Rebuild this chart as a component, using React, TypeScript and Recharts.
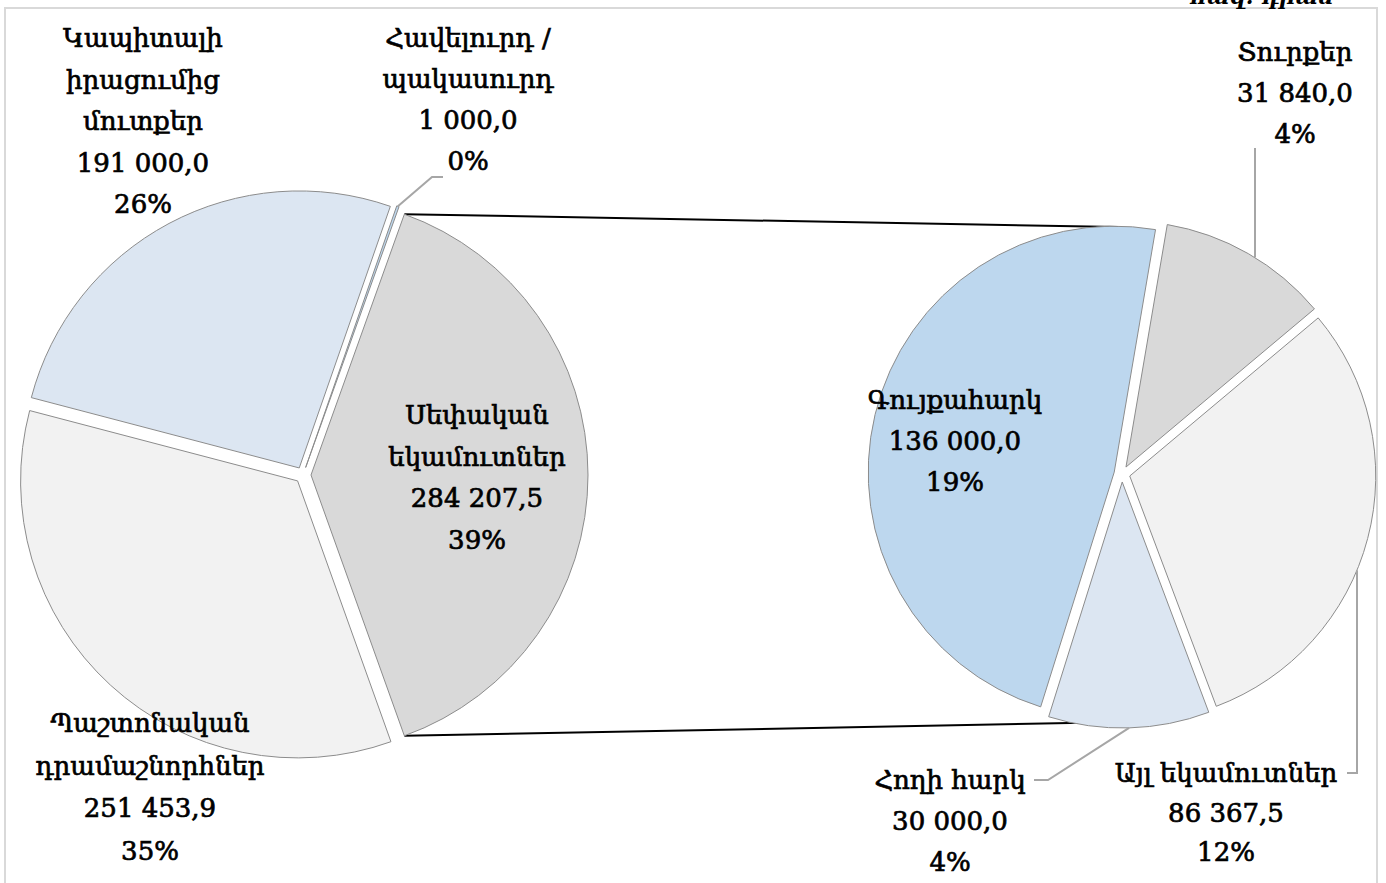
import { PieChart, Pie, Cell } from 'recharts'

// values in thousand AMD
const leftCategories = ['Սեփական\nեկամուտներ', 'Պաշտոնական\nդրամաշնորհներ', 'Կապիտալի\nիրացումից\nմուտքեր', 'Հավելուրդ /\nպակասուրդ']
const leftValues = [284207.5, 251453.9, 191000, 1000]
const leftColors = ['#d9d9d9', '#f2f2f2', '#dce6f2', '#bdd7ee']

const rightCategories = ['Գույքահարկ', 'Տուրքեր', 'Այլ եկամուտներ', 'Հողի հարկ']
const rightValues = [136000, 31840, 86367.5, 30000]
const rightColors = ['#bdd7ee', '#d9d9d9', '#f2f2f2', '#dce6f2']

const unitLabel = 'հազ. դրամ'

const WIDTH = 1386
const HEIGHT = 883
const EXPLODE = 8
const STROKE = '#8c8c8c'
const FONT = "'DejaVu Serif', serif"
const FONT_SIZE = 26
const RAD = Math.PI / 180

const grandTotal = leftValues.reduce((a, b) => a + b, 0)

const leftData = leftCategories.map((name, i) => ({ name, value: leftValues[i] }))
const rightData = rightCategories.map((name, i) => ({ name, value: rightValues[i] }))

// first slice of left pie is centered on the right side, like Excel's pie-of-pie
const leftGeo = { cx: 303, cy: 475, r: 277, start: (180 * leftValues[0]) / grandTotal }
const rightGeo = { cx: 1122, cy: 474, r: 246, start: 252.6 }

interface LabelLayout {
  x: number
  y: number
  lh: number
  leader?: { pts: number[][]; anchorX?: number }
}

const leftLabels: LabelLayout[] = [
  { x: 477, y: 415, lh: 41.5 },
  { x: 150, y: 723, lh: 42.5 },
  { x: 143, y: 38, lh: 41.5 },
  { x: 468, y: 38, lh: 41, leader: { pts: [[443, 177], [432, 177]] } },
]
const rightLabels: LabelLayout[] = [
  { x: 955, y: 400, lh: 41 },
  { x: 1295, y: 52, lh: 41, leader: { pts: [[1255, 148]], anchorX: 1255 } },
  { x: 1226, y: 773, lh: 39.5, leader: { pts: [[1347, 773], [1357, 773]], anchorX: 1357 } },
  { x: 950, y: 780, lh: 41, leader: { pts: [[1034, 780], [1048, 780]] } },
]

function polar(cx: number, cy: number, r: number, a: number) {
  return [cx + r * Math.cos(a * RAD), cy - r * Math.sin(a * RAD)]
}

function fmtValue(v: number) {
  const [int, dec] = v.toFixed(1).split('.')
  return int.replace(/\B(?=(\d{3})+(?!\d))/g, ' ') + ',' + dec
}

function midAngles(values: number[], start: number) {
  const sum = values.reduce((a, b) => a + b, 0)
  let acc = 0
  return values.map((v) => {
    const mid = start - (360 * (acc + v / 2)) / sum
    acc += v
    return mid
  })
}

function renderLabel(p: any, layout: LabelLayout, name: string, value: number) {
  const lines = [...name.split('\n'), fmtValue(value), Math.round((value / grandTotal) * 100) + '%']
  let leader = null
  if (layout.leader) {
    const pts = layout.leader.pts
    let end: number[]
    if (layout.leader.anchorX != null) {
      const x = layout.leader.anchorX
      const dy = Math.sqrt(Math.max(0, p.outerRadius ** 2 - (x - p.cx) ** 2))
      const last = pts[pts.length - 1]
      end = [x, last[1] < p.cy ? p.cy - dy : p.cy + dy]
    } else {
      end = polar(p.cx, p.cy, p.outerRadius, p.midAngle)
    }
    const all = [...pts, end]
    leader = (
      <polyline
        points={all.map((q) => q.join(',')).join(' ')}
        fill="none"
        stroke="#a6a6a6"
        strokeWidth={2}
      />
    )
  }
  return (
    <g>
      {leader}
      {lines.map((t, i) => (
        <text
          key={i}
          x={layout.x}
          y={layout.y + i * layout.lh}
          textAnchor="middle"
          dominantBaseline="central"
          fontFamily={FONT}
          fontSize={FONT_SIZE}
          fill="#000"
          stroke="#000"
          strokeWidth={0.7}
        >
          {t}
        </text>
      ))}
    </g>
  )
}

function explodedPies(
  id: string,
  data: { name: string; value: number }[],
  colors: string[],
  geo: { cx: number; cy: number; r: number; start: number },
  layouts: LabelLayout[]
) {
  const mids = midAngles(data.map((d) => d.value), geo.start)
  return data.map((_, k) => {
    const [px, py] = polar(geo.cx, geo.cy, EXPLODE, mids[k])
    return (
      <Pie
        key={id + k}
        data={data}
        dataKey="value"
        nameKey="name"
        cx={px}
        cy={py}
        innerRadius={0}
        outerRadius={geo.r}
        startAngle={geo.start}
        endAngle={geo.start - 360}
        paddingAngle={0}
        isAnimationActive={false}
        labelLine={false}
        label={(p: any) =>
          p.index === k ? renderLabel(p, layouts[k], data[k].name, data[k].value) : <g />
        }
      >
        {data.map((d, i) => (
          <Cell
            key={d.name}
            fill={i === k ? colors[i] : 'none'}
            stroke={i === k ? STROKE : 'none'}
            strokeWidth={1}
          />
        ))}
      </Pie>
    )
  })
}

export default function App() {
  // series lines from the split slice corners to the top/bottom of the second pie
  const m0 = midAngles(leftValues, leftGeo.start)[0]
  const [sx, sy] = polar(leftGeo.cx, leftGeo.cy, EXPLODE, m0)
  const topA = polar(sx, sy, leftGeo.r, leftGeo.start)
  const botA = polar(sx, sy, leftGeo.r, leftGeo.start - (360 * leftValues[0]) / grandTotal)
  const topB = [rightGeo.cx - 4, rightGeo.cy - rightGeo.r - 1]
  const botB = [rightGeo.cx + 2, rightGeo.cy + rightGeo.r + 2]

  return (
    <div style={{ position: 'absolute', left: 0, top: 0, width: WIDTH, height: HEIGHT, background: '#fff' }}>
      <PieChart width={WIDTH} height={HEIGHT} margin={{ top: 0, right: 0, bottom: 0, left: 0 }}>
        <rect x={5} y={8} width={1372} height={900} fill="none" stroke="#d9d9d9" strokeWidth={2} />
        <text
          x={1262}
          y={4}
          textAnchor="middle"
          fontFamily={FONT}
          fontStyle="italic"
          fontWeight="bold"
          fontSize={22}
          fill="#000"
        >
          {unitLabel}
        </text>
        <line x1={topA[0]} y1={topA[1]} x2={topB[0]} y2={topB[1]} stroke="#000" strokeWidth={2} />
        <line x1={botA[0]} y1={botA[1]} x2={botB[0]} y2={botB[1]} stroke="#000" strokeWidth={2} />
        {explodedPies('l', leftData, leftColors, leftGeo, leftLabels)}
        {explodedPies('r', rightData, rightColors, rightGeo, rightLabels)}
      </PieChart>
    </div>
  )
}
